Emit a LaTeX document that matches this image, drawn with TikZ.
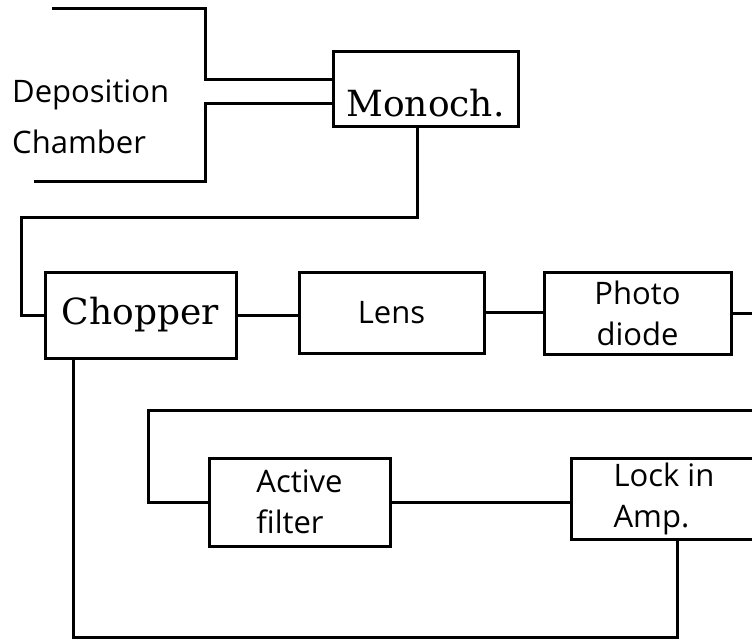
\documentclass[tikz,border=0pt]{standalone}
\usepackage{fontspec}
\newfontfamily\boxsans{Open Sans}
\newfontfamily\boxserif{DejaVu Serif}
\usepackage{tikz}

\begin{document}
\begin{tikzpicture}[
    x=1pt, y=-1pt,
    wire/.style={line width=3pt, line cap=rect},
    unit/.style={rectangle, draw, line width=3pt, inner sep=0pt},
    sansbox/.style={unit, font=\boxsans\fontsize{31}{41}\selectfont},
    serifbox/.style={unit, font=\boxserif\fontsize{36}{44}\selectfont},
    chambertext/.style={inner sep=0pt, align=left, font=\boxsans\fontsize{31}{41}\selectfont}
  ]
    \useasboundingbox (0,0) rectangle (752,639);
    \clip (0,0) rectangle (752,639);
    \node[serifbox, minimum width=185pt, text height=65pt, text depth=10pt] (mono) at (425.5,89.5) {Monoch.};
    \node[chambertext, anchor=north west] (chamber) at (12,80) {Deposition\\[10pt]Chamber};
    \node[serifbox, minimum width=191pt, minimum height=86pt] (chop) at (140.5,315) {Chopper};
    \node[sansbox, minimum width=185pt, minimum height=81pt] (lens) at (391.5,312.5) {Lens};
    \node[sansbox, minimum width=187pt, minimum height=82pt, align=center] (photo) at (637.5,313) {Photo\\diode};
    \node[sansbox, minimum width=181pt, minimum height=88pt, align=left] (filt) at (299.5,502) {Active\\filter};
    \node[sansbox, minimum width=186pt, minimum height=81pt, align=left] (lock) at (664,498.5) {Lock in\\Amp.};
    \coordinate (topend) at (53,9);
    \coordinate (botend) at (35,182);
    \coordinate (outR) at (760,318);
    \coordinate (loopR) at (760,410);
    \draw[wire] (topend) -| (205,80) -- (mono.west |- 0,80);
    \draw[wire] (botend) -| (205,104) -- (mono.west |- 0,104);
    \draw[wire] ([xshift=-8.5pt]mono.south) |- (21,218) |- (chop.west);
    \draw[wire] (chop.east) -- (chop.east -| lens.west);
    \draw[wire] (lens.east) -- (lens.east -| photo.west);
    \draw[wire] (photo.east) -- (photo.east -| outR);
    \draw[wire] (loopR) -| ([xshift=-59pt]filt.west) -- (filt.west);
    \draw[wire] (filt.east) -- (filt.east -| lock.west);
    \draw[wire] ([xshift=13pt]lock.south) -- (677,637) -| ([xshift=-67.5pt]chop.south);
  \end{tikzpicture}
\end{document}
